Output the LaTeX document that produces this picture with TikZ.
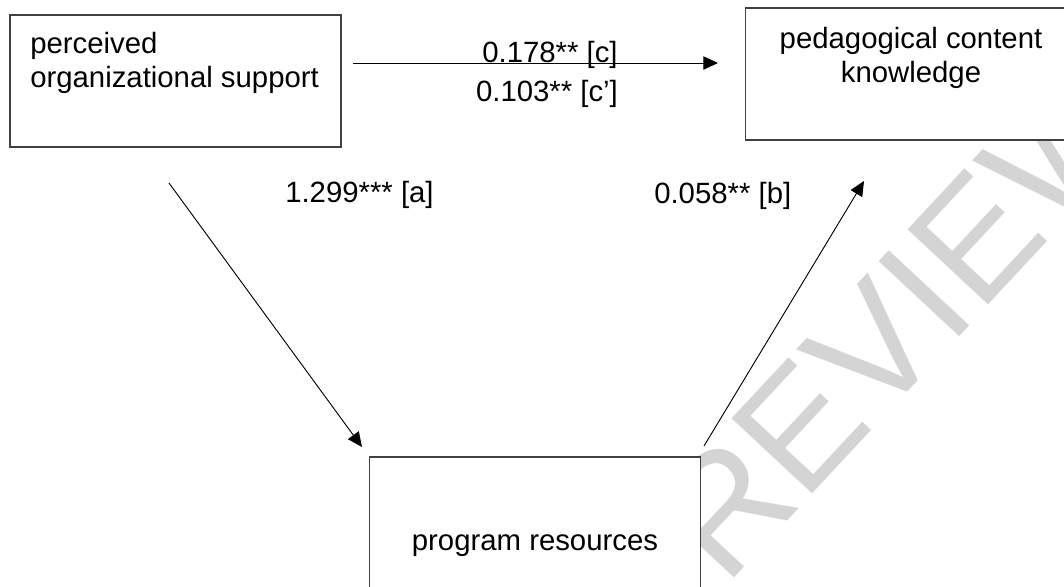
\documentclass[tikz,border=0pt]{standalone}
\usepackage{fontspec}
\setmainfont{Liberation Sans}
\usepackage{tikz}
\usetikzlibrary{arrows.meta}
\definecolor{wmgray}{gray}{0.83}
\definecolor{boxgray}{gray}{0.25}

\begin{document}
\begin{tikzpicture}[x=0.75pt, y=-0.75pt,
  >={Triangle[length=11pt,width=10pt]},
  box/.style={draw=boxgray, line width=1.1pt, fill=white, inner sep=0pt,
    minimum width=248pt, minimum height=99pt},
  txt/.style={inner sep=0pt, font=\fontsize{22}{25.5}\selectfont}]
\useasboundingbox (0,0) rectangle (1064,586);
\clip (0,0) rectangle (1064,586);

\node[rotate=47, anchor=base west, inner sep=0pt, text=wmgray,
  font=\fontsize{120}{120}\selectfont] (wm) at (725,588) {REVIEW};

\node[box] (pos) at (175.5, 81) {};
\node[box] (pck) at (911, 74) {};
\node[box] (res) at (535,523) {};

\node[txt, anchor=north west, align=left] (posT) at (30,32) {perceived\\organizational support};
\node[txt, anchor=north, align=center] (pckT) at (911,27) {pedagogical content\\knowledge};
\node[txt, anchor=base] (resT) at (535,550) {program resources};

\node[txt, anchor=base] (c) at (550, 62) {0.178** [c]};
\node[txt, anchor=base] (cp) at (547,101) {0.103** [c’]};
\node[txt, anchor=base west] (a) at (285,202) {1.299*** [a]};
\node[txt, anchor=base west] (b) at (654,203) {0.058** [b]};

\coordinate (c0) at (353, 63);
\coordinate (c1) at (718, 63);
\coordinate (a0) at (169,183);
\coordinate (a1) at (362,447);
\coordinate (b0) at (704,446);
\coordinate (b1) at (864,181);

\path[->, line width=0.7pt](c0) edge (c1);
\path[->, line width=0.7pt](a0) edge (a1);
\path[->, line width=0.7pt](b0) edge (b1);
\end{tikzpicture}
\end{document}
